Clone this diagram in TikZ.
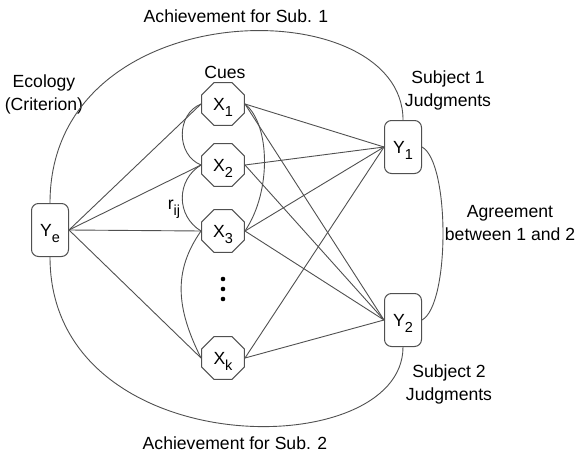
\documentclass[tikz,border=0pt]{standalone}
\usepackage{fontspec}
\setmainfont{Liberation Sans}
\usetikzlibrary{shapes.geometric}
\definecolor{edgegray}{HTML}{505050}
\newcommand{\lowsub}[1]{\raisebox{-6pt}[0pt][0pt]{\fontsize{14.5}{14.5}\selectfont #1}}

\begin{document}
\begin{tikzpicture}[
  x=1pt,y=1pt,
  every node/.style={font=\fontsize{17.6}{23}\selectfont},
  cue/.style={
    regular polygon,
    regular polygon sides=8,
    draw=edgegray,
    line width=1pt,
    minimum size=46.5pt,
    inner sep=0pt
  },
  judge/.style={
    draw=edgegray,
    line width=1pt,
    rounded corners=7pt,
    minimum width=37pt,
    minimum height=53pt,
    inner sep=0pt
  },
  link/.style={draw=edgegray, line width=0.9pt},
  caption/.style={align=center}
]
\useasboundingbox (0,0) rectangle (577,456);

\node[judge] (Ye) at (50,226) {Y\lowsub{e}};
\node[cue] (X1) at (223,352) {X\lowsub{1}};
\node[cue] (X2) at (223,291) {X\lowsub{2}};
\node[cue] (X3) at (223,225) {X\lowsub{3}};
\node[cue] (Xk) at (223,98) {X\lowsub{k}};
\node[judge] (Y1) at (403,309) {Y\lowsub{1}};
\node[judge] (Y2) at (403,136) {Y\lowsub{2}};

\foreach \d in {177,167,157}
  \fill (223,\d) circle (2.3pt);

\node[caption] (ach1) at (236,440) {Achievement for Sub. 1};
\node[caption] (cues) at (225,384) {Cues};
\node[caption] (eco) at (44,362) {Ecology\\(Criterion)};
\node[caption] (subj1) at (448,366) {Subject 1\\Judgments};
\node[caption] (agree) at (510,233) {Agreement\\between 1 and 2};
\node[caption] (subj2) at (449,72) {Subject 2\\Judgments};
\node[caption] (ach2) at (235,13) {Achievement for Sub. 2};
\node (rij) at (174,251) {r\lowsub{ij}};

% cue validities and cue utilizations
\foreach \c in {X1,X2,X3,Xk} {
  \draw[link] (Ye.east) -- (\c.west);
  \draw[link] (\c.east) -- (Y1.west);
  \draw[link] (\c.east) -- (Y2.west);
}

% intercorrelations among cues
\draw[link] (X1.west) .. controls +(-25,-10) and +(-25,10) .. (X2.west);
\draw[link] (X2.west) .. controls +(-25,-15) and +(-25,15) .. (X3.west);
\draw[link] (X3.west) .. controls +(-28,-40) and +(-25,50) .. (Xk.west);
\draw[link] (X1.east) .. controls +(25,-20) and +(27,40) .. (X3.east);

\draw[link] (Ye.north) .. controls +(0,213) and +(0,131) .. (Y1.north);
\draw[link] (Ye.south) .. controls +(0,-208) and +(0,-118) .. (Y2.south);
\draw[link] (Y1.east) .. controls +(28,-15) and +(28,15) .. (Y2.east);
\end{tikzpicture}
\end{document}
